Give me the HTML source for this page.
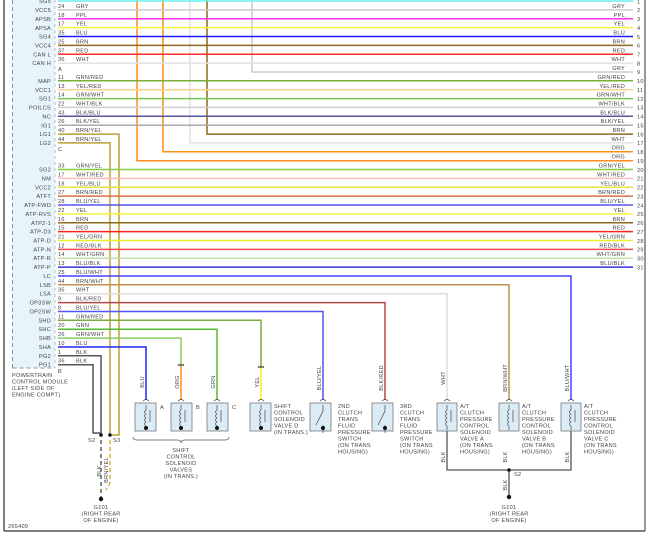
<!DOCTYPE html>
<html><head><meta charset="utf-8"><style>
html,body{margin:0;padding:0;background:#fff}
svg{display:block}
text{font-family:"Liberation Sans",sans-serif;font-size:5.6px;fill:#444;letter-spacing:0.25px}
.r{text-anchor:end}.m{text-anchor:middle}
.w{fill:none;stroke-width:1.5}
.b{fill:#dcecf7;stroke:#777;stroke-width:0.8}
.k{fill:none;stroke:#444;stroke-width:0.7}
</style></head><body>
<svg width="650" height="533" viewBox="0 0 650 533" xmlns="http://www.w3.org/2000/svg">
<!-- frame -->
<line x1="4" y1="0" x2="4" y2="531" stroke="#555" stroke-width="1.5"/>
<line x1="645" y1="0" x2="645" y2="531" stroke="#555" stroke-width="1.2"/>
<line x1="4" y1="531" x2="645" y2="531" stroke="#555" stroke-width="1.5"/>
<!-- PCM panel -->
<rect x="12" y="0" width="43" height="368" fill="#e8f4fb"/>
<line x1="12.5" y1="0" x2="12.5" y2="368" stroke="#777" stroke-width="0.8" stroke-dasharray="4,3"/>
<line x1="12.5" y1="368" x2="55" y2="368" stroke="#777" stroke-width="0.8" stroke-dasharray="4,3"/>
<line x1="55" y1="0" x2="55" y2="368" stroke="#999" stroke-width="0.6" stroke-dasharray="3,3"/>

<!-- verticals from top -->
<path class="w" stroke="#ff8c1a" d="M137 0V160.7H633"/>
<path class="w" stroke="#ff8c1a" d="M163 0V151.8H633"/>
<path class="w" stroke="#e2e2e2" d="M190 0V142.9H633"/>
<path class="w" stroke="#8b6a1a" d="M207 0V134.1H633"/>
<path class="w" stroke="#cccccc" d="M252 0V72H633"/>

<!-- horizontal rows 1-15 -->
<g class="w">
<path stroke="#66f0f0" d="M58 1H633"/>
<path stroke="#cccccc" d="M58 9.9H633"/>
<path stroke="#ff33ee" d="M58 18.7H633"/>
<path stroke="#f5f03a" d="M58 27.6H633"/>
<path stroke="#1a1aff" d="M58 36.5H633"/>
<path stroke="#8b6a1a" d="M58 45.4H633"/>
<path stroke="#ff2a2a" d="M58 54.2H633"/>
<path stroke="#e2e2e2" d="M58 63.1H633"/>
<path stroke="#78ad3c" d="M58 80.8H633"/>
<path stroke="#ffd08a" d="M58 89.7H633"/>
<path stroke="#78c850" d="M58 98.6H633"/>
<path stroke="#cfcfcf" d="M58 107.4H633"/>
<path stroke="#555599" d="M58 116.3H633"/>
<path stroke="#aaaaaa" d="M58 125.2H633"/>
<path stroke="#b8a030" d="M58 134.1H119V435H112"/>
<path stroke="#b8a030" d="M58 142.9H110V435"/>
<path stroke="#88cc44" d="M58 169.5H633"/>
<path stroke="#ffbcbc" d="M58 178.4H633"/>
<path stroke="#e8e040" d="M58 187.3H633"/>
<path stroke="#d4704a" d="M58 196.1H633"/>
<path stroke="#5555ee" d="M58 205H633"/>
<path stroke="#f5f03a" d="M58 213.9H633"/>
<path stroke="#8b6a1a" d="M58 222.8H633"/>
<path stroke="#ff2020" d="M58 231.6H633"/>
<path stroke="#e8f030" d="M58 240.5H633"/>
<path stroke="#ee5050" d="M58 249.4H633"/>
<path stroke="#bfe0a8" d="M58 258.2H633"/>
<path stroke="#3333dd" d="M58 267.1H633"/>
<path stroke="#4444ff" d="M58 276H571V400"/>
<path stroke="#c09050" d="M58 284.8H509V400"/>
<path stroke="#dddddd" d="M58 293.7H447V400"/>
<path stroke="#b04848" d="M58 302.6H385V400"/>
<path stroke="#5555ee" d="M58 311.5H323V400"/>
<path stroke="#78ad3c" d="M58 320.3H261V367"/>
<path stroke="#f5f020" d="M261 367V400"/>
<path stroke="#55bb33" d="M58 329.2H217V400"/>
<path stroke="#88cc66" d="M58 338.1H181V365"/>
<path stroke="#ff8c1a" d="M181 365V400"/>
<path stroke="#2222ff" d="M58 347H146V400"/>
<path stroke="#555555" d="M58 355.8H101V435"/>
<path stroke="#555555" d="M58 364.7H93V433H101"/>
</g>
<!-- dashed to grounds -->
<path d="M101 440V497" stroke="#444" stroke-width="1.3" stroke-dasharray="4,3"/>
<path d="M110 440V483L106 490" stroke="#c8a820" stroke-width="1.3" stroke-dasharray="4,3" fill="none"/>
<circle cx="101" cy="435" r="1.8" fill="#111"/><circle cx="110" cy="435" r="1.8" fill="#111"/>
<circle cx="101" cy="499" r="2.2" fill="#111"/>
<text x="88" y="442">S2</text><text x="113" y="442">S3</text>
<text x="101" y="471" transform="rotate(-90 101 471)" class="m">BLK</text>
<text x="108" y="470" transform="rotate(-90 108 470)" class="m">BRN/YEL</text>
<text x="101" y="509" class="m">G101</text><text x="101" y="515.5" class="m">(RIGHT REAR</text><text x="101" y="522" class="m">OF ENGINE)</text>

<!-- PCM labels -->
<g class="r">
<text x="51" y="3">SG5</text><text x="51" y="12">VCC5</text><text x="51" y="21">APSB</text><text x="51" y="30">APSA</text>
<text x="51" y="38.5">SG4</text><text x="51" y="47.5">VCC4</text><text x="51" y="56.5">CAN L</text><text x="51" y="65">CAN H</text>
<text x="51" y="83">MAP</text><text x="51" y="92">VCC1</text><text x="51" y="100.5">SG1</text><text x="51" y="109.5">POILCS</text>
<text x="51" y="118.5">NC</text><text x="51" y="127.5">IG1</text><text x="51" y="136">LG1</text><text x="51" y="145">LG2</text>
<text x="51" y="171.5">SG2</text><text x="51" y="180.5">NM</text><text x="51" y="189.5">VCC2</text><text x="51" y="198">ATFT</text>
<text x="51" y="207">ATP-FWD</text><text x="51" y="216">ATP-RVS</text><text x="51" y="225">ATP2-1</text><text x="51" y="233.5">ATP-D3</text>
<text x="51" y="242.5">ATP-D</text><text x="51" y="251.5">ATP-N</text><text x="51" y="260">ATP-R</text><text x="51" y="269">ATP-P</text>
<text x="51" y="278">LC</text><text x="51" y="287">LSB</text><text x="51" y="295.5">LSA</text><text x="51" y="304.5">OP3SW</text>
<text x="51" y="313.5">OP2SW</text><text x="51" y="322.5">SHD</text><text x="51" y="331">SHC</text><text x="51" y="340">SHB</text>
<text x="51" y="349">SHA</text><text x="51" y="358">PG2</text><text x="51" y="366.5">PG1</text>
</g>
<text x="58" y="71">A</text><text x="58" y="151">C</text><text x="58" y="373">B</text>
<!-- pins & colors left -->
<g>
<text x="58" y="8">24</text><text x="76" y="8">GRY</text>
<text x="58" y="17">18</text><text x="76" y="17">PPL</text>
<text x="58" y="25.5">17</text><text x="76" y="25.5">YEL</text>
<text x="58" y="34.5">35</text><text x="76" y="34.5">BLU</text>
<text x="58" y="43.5">25</text><text x="76" y="43.5">BRN</text>
<text x="58" y="52.5">37</text><text x="76" y="52.5">RED</text>
<text x="58" y="61">36</text><text x="76" y="61">WHT</text>
<text x="58" y="79">11</text><text x="76" y="79">GRN/RED</text>
<text x="58" y="88">13</text><text x="76" y="88">YEL/RED</text>
<text x="58" y="96.5">14</text><text x="76" y="96.5">GRN/WHT</text>
<text x="58" y="105.5">22</text><text x="76" y="105.5">WHT/BLK</text>
<text x="58" y="114.5">43</text><text x="76" y="114.5">BLK/BLU</text>
<text x="58" y="123">26</text><text x="76" y="123">BLK/YEL</text>
<text x="58" y="132">40</text><text x="76" y="132">BRN/YEL</text>
<text x="58" y="141">44</text><text x="76" y="141">BRN/YEL</text>
<text x="58" y="167.5">33</text><text x="76" y="167.5">GRN/YEL</text>
<text x="58" y="176.5">17</text><text x="76" y="176.5">WHT/RED</text>
<text x="58" y="185.5">18</text><text x="76" y="185.5">YEL/BLU</text>
<text x="58" y="194">27</text><text x="76" y="194">BRN/RED</text>
<text x="58" y="203">28</text><text x="76" y="203">BLU/YEL</text>
<text x="58" y="212">22</text><text x="76" y="212">YEL</text>
<text x="58" y="221">16</text><text x="76" y="221">BRN</text>
<text x="58" y="229.5">15</text><text x="76" y="229.5">RED</text>
<text x="58" y="238.5">21</text><text x="76" y="238.5">YEL/GRN</text>
<text x="58" y="247.5">12</text><text x="76" y="247.5">RED/BLK</text>
<text x="58" y="256">14</text><text x="76" y="256">WHT/GRN</text>
<text x="58" y="265">13</text><text x="76" y="265">BLU/BLK</text>
<text x="58" y="274">25</text><text x="76" y="274">BLU/WHT</text>
<text x="58" y="283">44</text><text x="76" y="283">BRN/WHT</text>
<text x="58" y="291.5">35</text><text x="76" y="291.5">WHT</text>
<text x="58" y="300.5">9</text><text x="76" y="300.5">BLK/RED</text>
<text x="58" y="309.5">8</text><text x="76" y="309.5">BLU/YEL</text>
<text x="58" y="318.5">11</text><text x="76" y="318.5">GRN/RED</text>
<text x="58" y="327">20</text><text x="76" y="327">GRN</text>
<text x="58" y="336">26</text><text x="76" y="336">GRN/WHT</text>
<text x="58" y="345">10</text><text x="76" y="345">BLU</text>
<text x="58" y="354">1</text><text x="76" y="354">BLK</text>
<text x="58" y="362.5">36</text><text x="76" y="362.5">BLK</text>
</g>
<text x="12" y="377">POWERTRAIN</text><text x="12" y="383.5">CONTROL MODULE</text><text x="12" y="390">(LEFT SIDE OF</text><text x="12" y="396.5">ENGINE COMPT)</text>

<!-- right labels -->
<g class="r">
<text x="625" y="8">GRY</text><text x="625" y="17">PPL</text><text x="625" y="25.5">YEL</text><text x="625" y="34.5">BLU</text>
<text x="625" y="43.5">BRN</text><text x="625" y="52.5">RED</text><text x="625" y="61">WHT</text><text x="625" y="70">GRY</text>
<text x="625" y="79">GRN/RED</text><text x="625" y="88">YEL/RED</text><text x="625" y="96.5">GRN/WHT</text><text x="625" y="105.5">WHT/BLK</text>
<text x="625" y="114.5">BLK/BLU</text><text x="625" y="123">BLK/YEL</text><text x="625" y="132">BRN</text><text x="625" y="141">WHT</text>
<text x="625" y="149.5">ORG</text><text x="625" y="158.5">ORG</text><text x="625" y="167.5">GRN/YEL</text><text x="625" y="176.5">WHT/RED</text>
<text x="625" y="185.5">YEL/BLU</text><text x="625" y="194">BRN/RED</text><text x="625" y="203">BLU/YEL</text><text x="625" y="212">YEL</text>
<text x="625" y="221">BRN</text><text x="625" y="229.5">RED</text><text x="625" y="238.5">YEL/GRN</text><text x="625" y="247.5">RED/BLK</text>
<text x="625" y="256">WHT/GRN</text><text x="625" y="265">BLU/BLK</text>
</g>
<g>
<text x="637" y="3.5">1</text><text x="637" y="12">2</text><text x="637" y="21">3</text><text x="637" y="30">4</text><text x="637" y="39">5</text>
<text x="637" y="47.5">6</text><text x="637" y="56.5">7</text><text x="637" y="65.5">8</text><text x="637" y="74">9</text><text x="637" y="83">10</text>
<text x="637" y="92">11</text><text x="637" y="101">12</text><text x="637" y="109.5">13</text><text x="637" y="118.5">14</text><text x="637" y="127.5">15</text>
<text x="637" y="136.5">16</text><text x="637" y="145">17</text><text x="637" y="154">18</text><text x="637" y="163">19</text><text x="637" y="172">20</text>
<text x="637" y="180.5">21</text><text x="637" y="189.5">22</text><text x="637" y="198.5">23</text><text x="637" y="207.5">24</text><text x="637" y="216">25</text>
<text x="637" y="225">26</text><text x="637" y="234">27</text><text x="637" y="243">28</text><text x="637" y="251.5">29</text><text x="637" y="260.5">30</text>
<text x="637" y="269.5">31</text>
</g>

<!-- wire color labels (vertical) -->
<g class="m">
<text transform="translate(144 382) rotate(-90)">BLU</text>
<text transform="translate(179 382) rotate(-90)">ORG</text>
<text transform="translate(215 382) rotate(-90)">GRN</text>
<text transform="translate(259 382) rotate(-90)">YEL</text>
<text transform="translate(321 378) rotate(-90)">BLU/YEL</text>
<text transform="translate(383 378) rotate(-90)">BLK/RED</text>
<text transform="translate(445 378) rotate(-90)">WHT</text>
<text transform="translate(507 378) rotate(-90)">BRN/WHT</text>
<text transform="translate(569 378) rotate(-90)">BLU/WHT</text>
<text transform="translate(445 457) rotate(-90)">BLK</text>
<text transform="translate(507 457) rotate(-90)">BLK</text>
<text transform="translate(569 457) rotate(-90)">BLK</text>
<text transform="translate(507 485) rotate(-90)">BLK</text>
</g>
<!-- connectors -->
<g class="k">
<path d="M178 366q3-3 6 0M178 364q3 3 6 0"/><path d="M258 368q3-3 6 0M258 366q3 3 6 0"/>
<path d="M143 401q3-3 6 0M178 401q3-3 6 0M214 401q3-3 6 0M258 401q3-3 6 0M320 401q3-3 6 0M382 401q3-3 6 0M444 401q3-3 6 0M506 401q3-3 6 0M568 401q3-3 6 0"/>
</g>
<!-- component boxes -->
<g>
<rect class="b" x="135" y="403" width="21" height="28"/><rect class="b" x="171" y="403" width="21" height="28"/>
<rect class="b" x="207" y="403" width="21" height="28"/><rect class="b" x="250" y="403" width="21" height="28"/>
<rect class="b" x="310" y="403" width="21" height="28"/><rect class="b" x="372" y="403" width="21" height="28"/>
<rect class="b" x="437" y="403" width="20" height="28"/><rect class="b" x="499" y="403" width="20" height="28"/>
<rect class="b" x="561" y="403" width="20" height="28"/>
</g>
<g class="k">
<path d="M146 405v5q-3 2 0 4q-3 2 0 4q-3 2 0 4q-3 2 0 4v2M150 410v12"/>
<path d="M181 405v5q-3 2 0 4q-3 2 0 4q-3 2 0 4q-3 2 0 4v2M185 410v12"/>
<path d="M217 405v5q-3 2 0 4q-3 2 0 4q-3 2 0 4q-3 2 0 4v2M221 410v12"/>
<path d="M261 405v5q-3 2 0 4q-3 2 0 4q-3 2 0 4q-3 2 0 4v2M265 410v12"/>
<path d="M447 405v5q-3 2 0 4q-3 2 0 4q-3 2 0 4q-3 2 0 4v4M451 410v12"/>
<path d="M509 405v5q-3 2 0 4q-3 2 0 4q-3 2 0 4q-3 2 0 4v4M513 410v12"/>
<path d="M571 405v5q-3 2 0 4q-3 2 0 4q-3 2 0 4q-3 2 0 4v4M575 410v12"/>
<path d="M323 405v6l-7 14M323 425v8"/><path d="M385 405v6l-7 14M385 425v8"/>
<path d="M447 431v39h124v-39M509 470v25" stroke="#555" stroke-width="1.3"/>
</g>
<g fill="#111">
<circle cx="146" cy="428" r="2"/><circle cx="181" cy="428" r="2"/><circle cx="217" cy="428" r="2"/><circle cx="261" cy="428" r="2"/>
<circle cx="323" cy="428" r="2"/><circle cx="385" cy="428" r="2"/><circle cx="509" cy="470" r="1.8"/><circle cx="509" cy="497" r="2.2"/>
</g>
<text x="160" y="409">A</text><text x="196" y="409">B</text><text x="232" y="409">C</text>
<path d="M133 437q0 3 4 3h40q4 0 4 3q0-3 4-3h40q4 0 4-3" fill="none" stroke="#555" stroke-width="0.7"/>
<g class="m">
<text x="181" y="452">SHIFT</text><text x="181" y="458.5">CONTROL</text><text x="181" y="465">SOLENOID</text><text x="181" y="471.5">VALVES</text><text x="181" y="478">(IN TRANS.)</text>
<text x="514" y="476" style="text-anchor:start">S2</text>
<text x="509" y="509">G101</text><text x="509" y="515.5">(RIGHT REAR</text><text x="509" y="522">OF ENGINE)</text>
</g>
<text x="274" y="408">SHIFT</text><text x="274" y="414.5">CONTROL</text><text x="274" y="421">SOLENOID</text><text x="274" y="427.5">VALVE D</text><text x="274" y="434">(IN TRANS.)</text>
<text x="338" y="408">2ND</text><text x="338" y="414.5">CLUTCH</text><text x="338" y="421">TRANS</text><text x="338" y="427.5">FLUID</text><text x="338" y="434">PRESSURE</text><text x="338" y="440.5">SWITCH</text><text x="338" y="447">(ON TRANS</text><text x="338" y="453.5">HOUSING)</text>
<text x="400" y="408">3RD</text><text x="400" y="414.5">CLUTCH</text><text x="400" y="421">TRANS</text><text x="400" y="427.5">FLUID</text><text x="400" y="434">PRESSURE</text><text x="400" y="440.5">SWITCH</text><text x="400" y="447">(ON TRANS</text><text x="400" y="453.5">HOUSING)</text>
<text x="460" y="408">A/T</text><text x="460" y="414.5">CLUTCH</text><text x="460" y="421">PRESSURE</text><text x="460" y="427.5">CONTROL</text><text x="460" y="434">SOLENOID</text><text x="460" y="440.5">VALVE A</text><text x="460" y="447">(ON TRANS</text><text x="460" y="453.5">HOUSING)</text>
<text x="522" y="408">A/T</text><text x="522" y="414.5">CLUTCH</text><text x="522" y="421">PRESSURE</text><text x="522" y="427.5">CONTROL</text><text x="522" y="434">SOLENOID</text><text x="522" y="440.5">VALVE B</text><text x="522" y="447">(ON TRANS</text><text x="522" y="453.5">HOUSING)</text>
<text x="584" y="408">A/T</text><text x="584" y="414.5">CLUTCH</text><text x="584" y="421">PRESSURE</text><text x="584" y="427.5">CONTROL</text><text x="584" y="434">SOLENOID</text><text x="584" y="440.5">VALVE C</text><text x="584" y="447">(ON TRANS</text><text x="584" y="453.5">HOUSING)</text>
<text x="8" y="528">265409</text>
</svg>
</body></html>
